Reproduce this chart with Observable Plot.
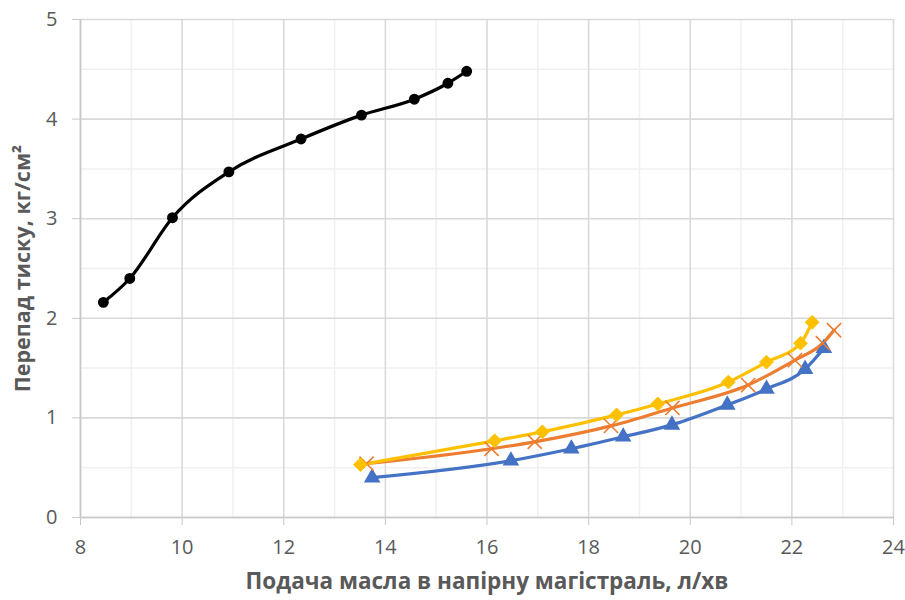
<!DOCTYPE html>
<html>
<head>
<meta charset="utf-8">
<script src="https://cdn.jsdelivr.net/npm/d3@7"></script>
<script src="https://cdn.jsdelivr.net/npm/@observablehq/plot@0.6"></script>
<style>
  html, body { margin: 0; padding: 0; background: #fff; }
  #chart svg { display: block; }
</style>
</head>
<body>
<div id="chart"></div>
<script>
// Tick values
const xMajorTicks = [8, 10, 12, 14, 16, 18, 20, 22, 24];
const xMinorTicks = [9, 11, 13, 15, 17, 19, 21, 23];
const yMajorTicks = [0, 1, 2, 3, 4, 5];
const yMinorTicks = [0.5, 1.5, 2.5, 3.5, 4.5];

const xTitle = "Подача масла в напірну магістраль, л/хв";
const yTitle = "Перепад тиску, кг/см²";

// Series: black (circles)
const blackX = [8.45, 8.97, 9.81, 10.92, 12.34, 13.53, 14.57, 15.23, 15.60];
const blackY = [2.16, 2.40, 3.01, 3.47, 3.80, 4.04, 4.20, 4.36, 4.48];
// Series: blue (triangles)
const blueX = [13.74, 16.47, 17.66, 18.68, 19.64, 20.73, 21.50, 22.26, 22.63];
const blueY = [0.40, 0.57, 0.69, 0.81, 0.93, 1.13, 1.29, 1.49, 1.70];
// Series: orange (crosses)
const orangeX = [13.63, 16.09, 16.94, 18.44, 19.65, 21.14, 22.06, 22.61, 22.83];
const orangeY = [0.54, 0.69, 0.76, 0.92, 1.10, 1.33, 1.58, 1.75, 1.88];
// Series: yellow (diamonds)
const yellowX = [13.51, 16.15, 17.09, 18.55, 19.36, 20.75, 21.50, 22.17, 22.40];
const yellowY = [0.53, 0.77, 0.86, 1.03, 1.14, 1.36, 1.56, 1.75, 1.96];

const rows = (xs, ys) => xs.map((x, i) => ({x, y: ys[i]}));
const black = rows(blackX, blackY);
const blue = rows(blueX, blueY);
const orange = rows(orangeX, orangeY);
const yellow = rows(yellowX, yellowY);

const colors = {black: "#000000", blue: "#4472C4", orange: "#ED7D31", yellow: "#FFC000"};
const font = "'Open Sans', 'Noto Sans', sans-serif";

const chart = Plot.plot({
  width: 905,
  height: 600,
  marginLeft: 80,
  marginRight: 12,
  marginTop: 19,
  marginBottom: 83,
  style: {fontFamily: font, fontSize: "20px", background: "#fff"},
  x: {domain: [8, 24]},
  y: {domain: [0, 5]},
  marks: [
    Plot.gridX(xMinorTicks, {stroke: "#f0f0f0", strokeOpacity: 1, strokeWidth: 1.5}),
    Plot.gridY(yMinorTicks, {stroke: "#f0f0f0", strokeOpacity: 1, strokeWidth: 1.5}),
    Plot.gridX(xMajorTicks, {stroke: "#d9d9d9", strokeOpacity: 1, strokeWidth: 1.6}),
    Plot.gridY(yMajorTicks, {stroke: "#d9d9d9", strokeOpacity: 1, strokeWidth: 1.6}),
    Plot.ruleX([8], {stroke: "#c8c8c8", strokeWidth: 1.6}),
    Plot.ruleY([0], {stroke: "#c8c8c8", strokeWidth: 1.6}),
    Plot.axisX(xMajorTicks, {
      tickSize: 8, tickPadding: 14, stroke: "#c8c8c8", fill: "#595959",
      fontSize: 20, label: null, tickFormat: d => String(d)
    }),
    Plot.axisY(yMajorTicks, {
      tickSize: 8, tickPadding: 15, stroke: "#c8c8c8", fill: "#595959",
      fontSize: 20, label: null, tickFormat: d => String(d)
    }),
    Plot.text([xTitle], {
      frameAnchor: "bottom", textAnchor: "middle", dy: 71, fontWeight: "bold", fontSize: 22.5,
      fill: "#595959", fontFamily: font
    }),
    Plot.text([yTitle], {
      frameAnchor: "left", textAnchor: "middle", dx: -57, rotate: -90, fontWeight: "bold",
      fontSize: 21.5, fill: "#595959", fontFamily: font
    }),
    // lines
    Plot.line(blue, {x: "x", y: "y", stroke: colors.blue, strokeWidth: 3.2, curve: "monotone-x"}),
    Plot.line(orange, {x: "x", y: "y", stroke: colors.orange, strokeWidth: 3.2, curve: "monotone-x"}),
    Plot.line(yellow, {x: "x", y: "y", stroke: colors.yellow, strokeWidth: 3.2, curve: "monotone-x"}),
    Plot.line(black, {x: "x", y: "y", stroke: colors.black, strokeWidth: 3.2, curve: "monotone-x"}),
    // markers
    Plot.dot(blue, {x: "x", y: "y", symbol: "triangle", fill: colors.blue, stroke: colors.blue, r: 5.2}),
    Plot.dot(orange, {x: "x", y: "y", symbol: "times", stroke: colors.orange, strokeWidth: 1.6, r: 6.5}),
    Plot.dot(yellow, {x: "x", y: "y", symbol: "diamond2", fill: colors.yellow, stroke: colors.yellow, strokeWidth: 1, r: 6.2}),
    Plot.dot(black, {x: "x", y: "y", symbol: "circle", fill: colors.black, stroke: colors.black, r: 4.7})
  ]
});
document.getElementById("chart").appendChild(chart);
</script>
</body>
</html>
